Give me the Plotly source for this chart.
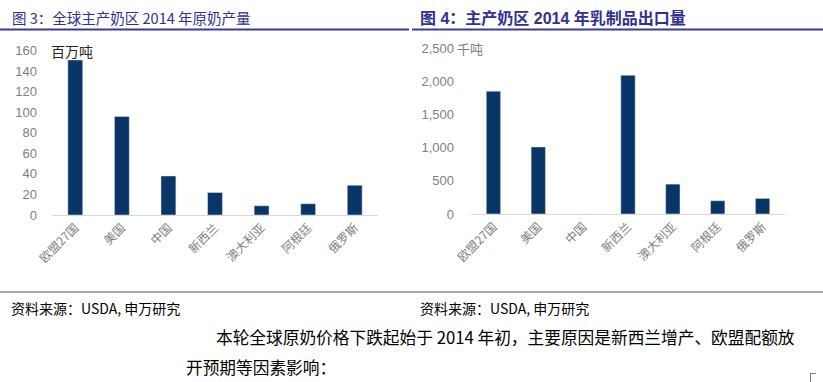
import plotly.graph_objects as go

W, H = 823, 382

categories = ["欧盟27国", "美国", "中国", "新西兰", "澳大利亚", "阿根廷", "俄罗斯"]
production_mt = [151, 96, 38, 22, 9, 11, 29]          # 百万吨
exports_kt = [1850, 1010, 0, 2090, 450, 200, 235]     # 千吨
y1_ticks = [0, 20, 40, 60, 80, 100, 120, 140, 160]
y2_ticks = [0, 500, 1000, 1500, 2000, 2500]

title_left = "图 3：全球主产奶区 2014 年原奶产量"
title_right = "<b>图 4：主产奶区 2014 年乳制品出口量</b>"
source_text = "资料来源：USDA, 申万研究"
body_line1 = "本轮全球原奶价格下跌起始于 2014 年初，主要原因是新西兰增产、欧盟配额放"
body_line2 = "开预期等因素影响："

BAR = "#0a3567"
GRAY = "#7f7f7f"
TITLE_C = "#2e3192"
FONT = "Liberation Sans, Noto Sans CJK SC, sans-serif"
CJK = "Noto Sans CJK SC, sans-serif"

def px(x):
    return x / W

def py(y):
    return 1 - y / H

fig = go.Figure()
fig.add_trace(go.Bar(x=categories, y=production_mt, marker_color=BAR,
                     xaxis="x", yaxis="y", showlegend=False))
fig.add_trace(go.Bar(x=categories, y=exports_kt, marker_color=BAR,
                     xaxis="x2", yaxis="y2", showlegend=False))

xcommon = dict(tickangle=-45, showgrid=False, zeroline=False, automargin=False,
               showline=True, linecolor="#d9d9d9", linewidth=1,
               tickfont=dict(family=CJK, size=12, color=GRAY), ticks="")
ycommon = dict(showgrid=False, zeroline=False, showline=False, ticks="", automargin=False,
               tickfont=dict(family=FONT, size=13, color=GRAY))

fig.update_layout(
    width=W, height=H,
    margin=dict(l=0, r=0, t=0, b=0, pad=0, autoexpand=False),
    paper_bgcolor="white", plot_bgcolor="white",
    bargap=0.68,
    xaxis=dict(domain=[px(52), px(378)], anchor="y", **xcommon),
    yaxis=dict(domain=[py(215), py(50.7)], range=[0, 160], tickvals=y1_ticks,
               anchor="x", ticklabelstandoff=14, **ycommon),
    xaxis2=dict(domain=[px(471), px(785)], anchor="y2", **xcommon),
    yaxis2=dict(domain=[py(214), py(48)], range=[0, 2500], tickvals=y2_ticks,
                tickformat=",", anchor="x2", ticklabelstandoff=16, **ycommon),
)

ann = []
ann.append(dict(text=title_left, x=px(10), y=py(18), xref="paper", yref="paper",
                xanchor="left", yanchor="middle", showarrow=False,
                font=dict(family=CJK, size=14.5, color=TITLE_C)))
ann.append(dict(text=title_right, x=px(418), y=py(18), xref="paper", yref="paper",
                xanchor="left", yanchor="middle", showarrow=False,
                font=dict(family=FONT, size=16, color=TITLE_C)))
ann.append(dict(text="百万吨", x=px(49), y=160, xref="paper", yref="y",
                xanchor="left", yanchor="middle", showarrow=False,
                font=dict(family=CJK, size=14, color="#262626")))
ann.append(dict(text="千吨", x=px(455), y=2500, xref="paper", yref="y2",
                xanchor="left", yanchor="middle", showarrow=False,
                font=dict(family=CJK, size=13, color=GRAY)))
for x0 in (9, 418):
    ann.append(dict(text=source_text, x=px(x0), y=py(308), xref="paper", yref="paper",
                    xanchor="left", yanchor="middle", showarrow=False,
                    font=dict(family=CJK, size=14, color="#000000")))
ann.append(dict(text=body_line1, x=px(214), y=py(337), xref="paper", yref="paper",
                xanchor="left", yanchor="middle", showarrow=False,
                font=dict(family=CJK, size=16.7, color="#000000")))
ann.append(dict(text=body_line2, x=px(184), y=py(367), xref="paper", yref="paper",
                xanchor="left", yanchor="middle", showarrow=False,
                font=dict(family=CJK, size=16.7, color="#000000")))
fig.update_layout(annotations=ann)

shapes = [
    dict(type="line", xref="paper", yref="paper", x0=0, x1=px(409), y0=py(29.5), y1=py(29.5),
         line=dict(color="#3a3a9a", width=2)),
    dict(type="line", xref="paper", yref="paper", x0=px(412), x1=1, y0=py(29.5), y1=py(29.5),
         line=dict(color="#3a3a9a", width=2)),
    dict(type="line", xref="paper", yref="paper", x0=0, x1=1, y0=py(292), y1=py(292),
         line=dict(color="#4b4b9b", width=1)),
    dict(type="line", xref="paper", yref="paper", x0=px(810), x1=px(816), y0=py(373.5), y1=py(373.5),
         line=dict(color="#777777", width=1)),
    dict(type="line", xref="paper", yref="paper", x0=px(810.5), x1=px(810.5), y0=py(373.5), y1=py(382),
         line=dict(color="#777777", width=1)),
]
fig.update_layout(shapes=shapes)

fig.write_html("out.html", config={"displayModeBar": False},
               post_script="document.body.style.margin='0px';document.body.style.overflow='hidden';")
